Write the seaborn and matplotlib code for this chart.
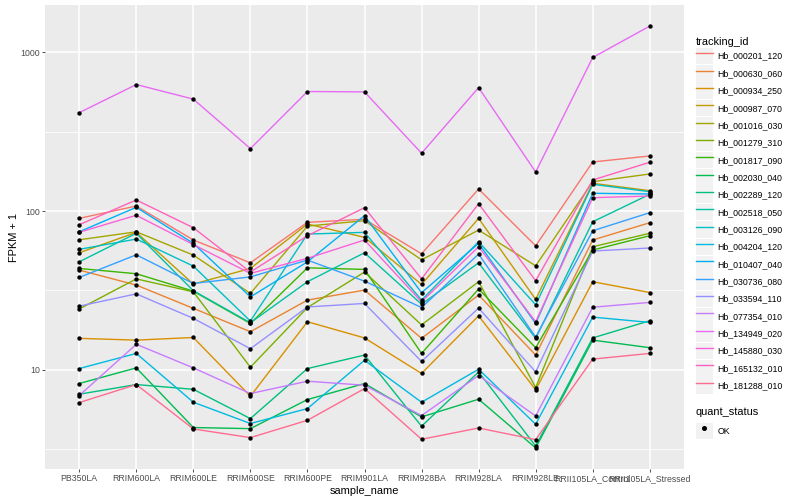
import numpy as np
import pandas as pd
import matplotlib
matplotlib.use("Agg")
import matplotlib.pyplot as plt
from matplotlib.lines import Line2D
from matplotlib.patches import Patch
from matplotlib.legend_handler import HandlerTuple
import matplotlib.ticker as mticker
import seaborn as sns

# ── data (FPKM + 1) ──────────────────────────────────────────────────────────
samples = ["PB350LA", "RRIM600LA", "RRIM600LE", "RRIM600SE", "RRIM600PE",
           "RRIM901LA", "RRIM928BA", "RRIM928LA", "RRIM928LE",
           "RRII105LA_Control", "RRII105LA_Stressed"]

tracking_ids = ["Hb_000201_120", "Hb_000630_060", "Hb_000934_250", "Hb_000987_070",
                "Hb_001016_030", "Hb_001279_310", "Hb_001817_090", "Hb_002030_040",
                "Hb_002289_120", "Hb_002518_050", "Hb_003126_090", "Hb_004204_120",
                "Hb_010407_040", "Hb_030736_080", "Hb_033594_110", "Hb_077354_010",
                "Hb_134949_020", "Hb_145880_030", "Hb_165132_010", "Hb_181288_010"]

hb_000201_120 = [89.9, 107.5, 65.7, 47.2, 84.9, 88.7, 53.8, 137.6, 60.4, 203.6, 222.0]
hb_000630_060 = [42.5, 34.2, 24.4, 17.4, 27.5, 31.8, 15.8, 29.6, 12.4, 65.7, 84.4]
hb_000934_250 = [15.8, 15.4, 16.0, 6.83, 20.1, 15.9, 9.5, 21.9, 7.5, 35.9, 30.7]
hb_000987_070 = [54.6, 73.4, 34.7, 43.5, 82.8, 68.3, 34.5, 89.9, 27.8, 149.4, 134.2]
hb_001016_030 = [65.9, 74.0, 52.8, 30.3, 80.4, 86.9, 49.3, 75.9, 45.2, 153.0, 171.0]
hb_001279_310 = [24.2, 37.4, 31.0, 10.4, 24.7, 41.3, 19.2, 35.9, 7.75, 59.6, 72.4]
hb_001817_090 = [43.5, 40.3, 31.3, 19.6, 43.9, 42.9, 12.7, 32.3, 13.8, 56.8, 69.9]
hb_002030_040 = [8.21, 10.3, 4.34, 4.27, 6.51, 8.21, 5.06, 6.54, 3.23, 15.4, 13.8]
hb_002289_120 = [7.03, 8.09, 7.55, 4.94, 10.2, 12.4, 4.42, 9.71, 3.32, 15.9, 20.4]
hb_002518_050 = [47.9, 72.4, 31.5, 19.8, 35.9, 54.6, 25.9, 47.2, 15.8, 85.6, 127.4]
hb_003126_090 = [57.4, 66.6, 45.0, 20.3, 71.6, 73.4, 27.5, 64.1, 25.7, 147.3, 132.3]
hb_004204_120 = [10.2, 12.7, 6.26, 4.60, 5.71, 11.5, 6.26, 10.1, 4.55, 21.5, 19.9]
hb_010407_040 = [74.0, 105.5, 62.6, 28.8, 47.9, 93.4, 30.6, 62.6, 19.6, 129.3, 128.0]
hb_030736_080 = [38.2, 53.0, 35.0, 38.5, 49.1, 36.2, 24.7, 53.6, 16.1, 75.1, 97.6]
hb_033594_110 = [25.2, 30.1, 21.1, 13.6, 24.9, 26.2, 11.3, 24.5, 9.71, 56.0, 58.5]
hb_077354_010 = [6.9, 14.5, 10.3, 7.10, 8.49, 8.01, 5.16, 9.22, 5.13, 24.8, 26.6]
hb_134949_020 = [416, 625, 506, 247, 565, 562, 231, 598, 176, 925, 1458]
hb_145880_030 = [73.5, 94.0, 61.5, 40.5, 50.4, 65.7, 26.8, 59.6, 20.1, 121.3, 124.3]
hb_165132_010 = [82.0, 117.3, 78.5, 41.3, 69.9, 104.9, 37.4, 111.2, 36.4, 156.8, 202.7]
hb_181288_010 = [6.23, 8.09, 4.25, 3.75, 4.82, 7.63, 3.66, 4.31, 3.64, 11.7, 12.7]

series = [hb_000201_120, hb_000630_060, hb_000934_250, hb_000987_070, hb_001016_030,
          hb_001279_310, hb_001817_090, hb_002030_040, hb_002289_120, hb_002518_050,
          hb_003126_090, hb_004204_120, hb_010407_040, hb_030736_080, hb_033594_110,
          hb_077354_010, hb_134949_020, hb_145880_030, hb_165132_010, hb_181288_010]

# ggplot2 default hue palette for 20 levels
colors = ["#F8766D", "#EA8331", "#D89000", "#C09B00", "#A3A500", "#7CAE00", "#39B600",
          "#00BB4E", "#00BF7D", "#00C1A3", "#00BFC4", "#00BAE0", "#00B0F6", "#35A2FF",
          "#9590FF", "#C77CFF", "#E76BF3", "#FA62DB", "#FF62BC", "#FF6C91"]

rows = []
for tid, vals in zip(tracking_ids, series):
    for s, v in zip(samples, vals):
        rows.append({"tracking_id": tid, "sample_name": s, "fpkm": v, "quant_status": "OK"})
df = pd.DataFrame(rows)

# ── plot ─────────────────────────────────────────────────────────────────────
plt.rcParams["font.family"] = ["Liberation Sans", "DejaVu Sans"]

fig = plt.figure(figsize=(8, 5), dpi=100)
ax = fig.add_axes([45 / 800, 1 - 469 / 500, (684 - 45) / 800, (469 - 5) / 500])
ax.set_facecolor("#EBEBEB")

sns.lineplot(data=df, x="sample_name", y="fpkm", hue="tracking_id",
             hue_order=tracking_ids, palette=colors, estimator=None, sort=False,
             linewidth=1.0, legend=False, ax=ax, zorder=2)
sns.scatterplot(data=df, x="sample_name", y="fpkm", color="black", s=10,
                linewidth=0, legend=False, ax=ax, zorder=3)

ax.set_yscale("log")
lo, hi = np.log10(df["fpkm"].min()), np.log10(df["fpkm"].max())
pad = 0.05 * (hi - lo)
ax.set_ylim(10 ** (lo - pad), 10 ** (hi + pad))
ax.set_xlim(-0.6, len(samples) - 0.4)

ax.yaxis.set_major_locator(mticker.FixedLocator([10, 100, 1000]))
ax.yaxis.set_major_formatter(mticker.FixedFormatter(["10", "100", "1000"]))
ax.yaxis.set_minor_locator(mticker.FixedLocator([10 ** 0.5, 10 ** 1.5, 10 ** 2.5]))
ax.yaxis.set_minor_formatter(mticker.NullFormatter())
ax.set_xticks(range(len(samples)))
ax.set_xticklabels(samples)

ax.grid(which="major", color="white", linewidth=1.1, zorder=0)
ax.grid(which="minor", axis="y", color="white", linewidth=0.55, zorder=0)
ax.set_axisbelow(True)
for sp in ax.spines.values():
    sp.set_visible(False)
ax.tick_params(which="major", length=2.0, width=0.6, color="#333333",
               labelcolor="#4D4D4D", labelsize=6.3, pad=1.5)
ax.tick_params(which="minor", length=0)

ax.set_xlabel("sample_name", fontsize=7.9, labelpad=2)
ax.set_ylabel("FPKM + 1", fontsize=7.9, labelpad=1)

# ── legends ──────────────────────────────────────────────────────────────────
key_bg = "#F2F2F2"
handles = [(Patch(facecolor=key_bg, edgecolor="none"), Line2D([0], [0], color=c, lw=1.0))
           for c in colors]
leg_kw = dict(loc="upper left", frameon=False, fontsize=6.3, title_fontsize=7.9,
              handlelength=1.94, handleheight=2.55, labelspacing=0.08,
              handletextpad=0.5, borderpad=0, borderaxespad=0, alignment="left",
              handler_map={tuple: HandlerTuple(ndivide=1, pad=0)})
leg1 = fig.legend(handles, tracking_ids, title="tracking_id",
                  bbox_to_anchor=(696 / 800, 1 - 37 / 500), **leg_kw)

pt_handle = (Patch(facecolor=key_bg, edgecolor="none"),
             Line2D([0], [0], color="black", marker="o", markersize=2.6, linestyle="none"))
leg2 = fig.legend([pt_handle], ["OK"], title="quant_status",
                  bbox_to_anchor=(696 / 800, 1 - 407 / 500), **leg_kw)
leg2._legend_box.sep = 4

fig.savefig("out.png", dpi=100)
